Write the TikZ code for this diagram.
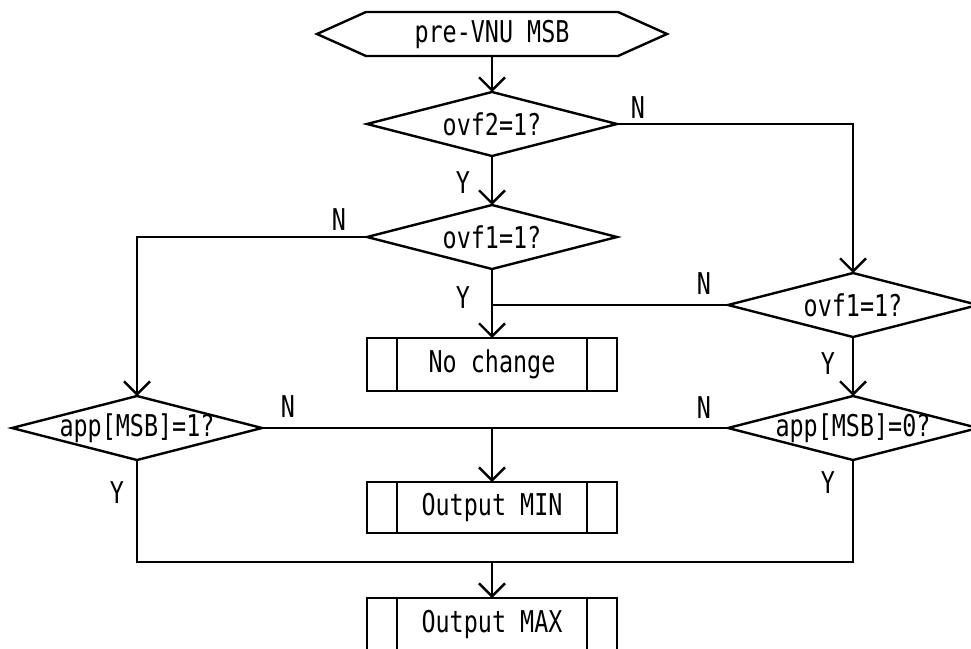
\documentclass[tikz,border=0pt]{standalone}
\usepackage{fontspec}
\newfontfamily\gothic[FakeStretch=0.78]{DejaVu Sans Mono}
\usetikzlibrary{arrows.meta}

\tikzset{
  arr/.style={-{Straight Barb[length=13pt,width=26pt]}},
  hexa/.style={minimum width=350pt, minimum height=44pt, inner sep=0pt, outer sep=0pt},
  dec/.style={minimum width=250pt, minimum height=64pt, inner sep=0pt, outer sep=0pt},
  proc/.style={draw, minimum width=250pt, minimum height=52pt, inner sep=0pt, outer sep=0pt},
  lbl/.style={inner sep=0pt}
}

\begin{document}
\begin{tikzpicture}[x=1pt, y=-1pt, line width=2.4pt,
    every node/.style={font=\gothic\fontsize{30pt}{33pt}\selectfont}]
    \useasboundingbox[fill=white] (0,0) rectangle (971,648);

    % Start
    \node[hexa] (start) at (492,34) {pre-VNU MSB};
    \draw (start.west) -- ([xshift=49pt]start.north west)
      -- ([xshift=-49pt]start.north east) -- (start.east)
      -- ([xshift=-49pt]start.south east) -- ([xshift=49pt]start.south west) -- cycle;

    % Decisions
    \node[dec] (qOvfTwo) at (492,124) {ovf2=1?};
    \node[dec] (qOvfOne) at (492,237) {ovf1=1?};
    \node[dec] (qOvfOneR) at (853,305) {ovf1=1?};
    \node[dec] (qAppOne) at (137,428) {app[MSB]=1?};
    \node[dec] (qAppZero) at (853,428) {app[MSB]=0?};
    \foreach \q in {qOvfTwo,qOvfOne,qOvfOneR,qAppOne,qAppZero}
      \draw (\q.west) -- (\q.north) -- (\q.east) -- (\q.south) -- cycle;

    % Processes
    \node[proc, minimum height=53pt] (noChg) at (492,364.5) {No change};
    \node[proc, minimum height=51pt] (outMin) at (492,507.5) {Output MIN};
    \node[proc] (outMax) at (492,624) {Output MAX};
    \foreach \p in {noChg,outMin,outMax}
      \draw ([xshift=30pt]\p.north west) -- ([xshift=30pt]\p.south west)
            ([xshift=-30pt]\p.north east) -- ([xshift=-30pt]\p.south east);

    % Connectors
    \draw[arr] (start.south) -- (qOvfTwo.north);
    \draw[arr] (qOvfTwo.east) -| (qOvfOneR.north);
    \draw[arr] (qOvfTwo.south) -- (qOvfOne.north);
    \draw[arr] (qOvfOne.west) -| (qAppOne.north);
    \draw[arr] (qOvfOne.south) -- (noChg.north);
    \draw (qOvfOneR.west) -- (qOvfOneR.west -| noChg.north);
    \draw[arr] (qOvfOneR.south) -- (qAppZero.north);
    \draw (qAppOne.east) -- (qAppZero.west);
    \coordinate (jMin) at (qAppOne.east -| outMin.north);
    \draw[arr] (jMin) -- (outMin.north);
    \coordinate (jMax) at (492,562);
    \draw (qAppOne.south) |- (jMax) -| (qAppZero.south);
    \draw[arr] (jMax) -- (outMax.north);

    % Branch labels
    \node[lbl] (nTwo) at (638,108) {N};
    \node[lbl] (yTwo) at (463,183) {Y};
    \node[lbl] (nOne) at (339,220) {N};
    \node[lbl] (yOne) at (463,298) {Y};
    \node[lbl] (nOneR) at (704,284) {N};
    \node[lbl] (yOneR) at (828,364) {Y};
    \node[lbl] (nAppZero) at (704,408) {N};
    \node[lbl] (nAppOne) at (288,407) {N};
    \node[lbl] (yAppOne) at (117,493) {Y};
    \node[lbl] (yAppZero) at (828,483) {Y};
\end{tikzpicture}
\end{document}
